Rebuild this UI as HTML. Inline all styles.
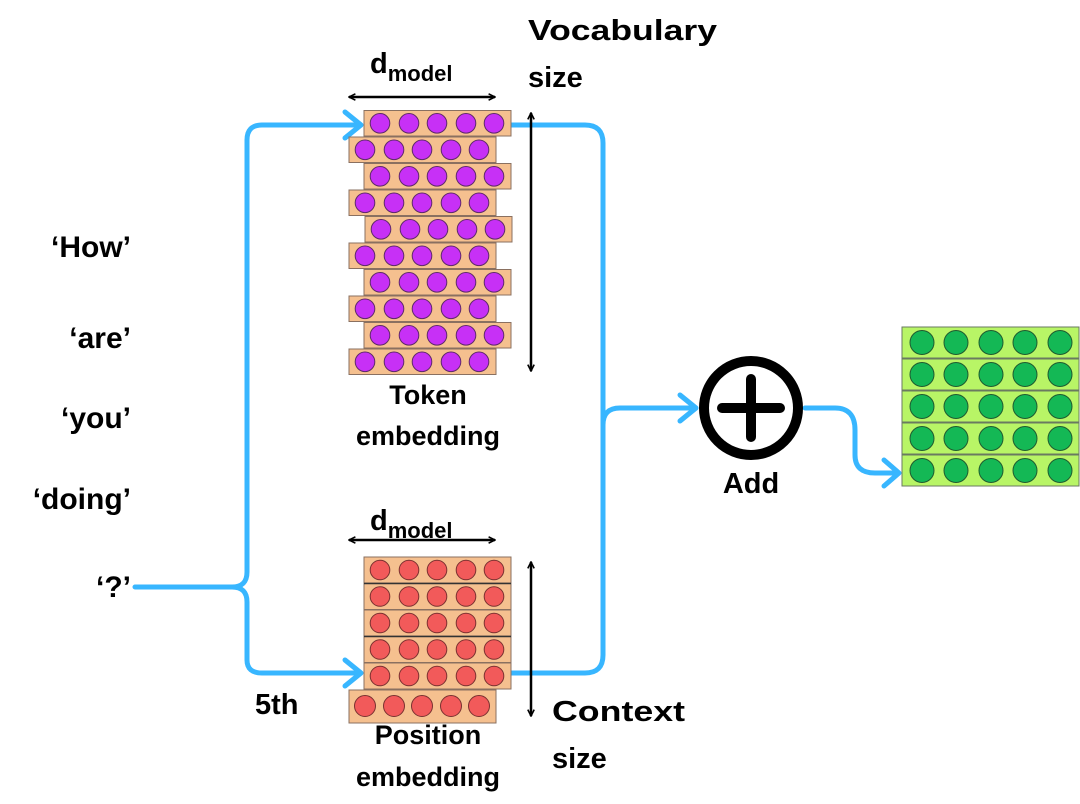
<!DOCTYPE html>
<html><head><meta charset="utf-8"><style>
html,body{margin:0;padding:0;background:#fff;}
svg{display:block;}
text{font-family:"Liberation Sans",sans-serif;font-weight:bold;fill:#000;}
</style></head><body>
<svg width="1080" height="804" viewBox="0 0 1080 804" xmlns="http://www.w3.org/2000/svg">
<defs>
<marker id="bh" viewBox="0 0 10 10" refX="9" refY="5" markerWidth="8" markerHeight="8" markerUnits="userSpaceOnUse" orient="auto-start-reverse"><path d="M1,1 L9,5 L1,9" fill="none" stroke="#000" stroke-width="2"/></marker>
</defs>
<g fill="none" stroke="#38b6ff" stroke-width="5" stroke-linecap="round" stroke-linejoin="round">
<path d="M135,587 H232 Q247,587 247,572 V140 Q247,125 262,125 H360"/>
<path d="M232,587 Q247,587 247,602 V660 Q247,673 262,673 H360"/>
<path d="M345,112 L361,125 L345,138"/>
<path d="M345,660 L361,673 L345,686"/>
<path d="M511,125 H585 Q603,125 603,143 V655 Q603,673 585,673 H511"/>
<path d="M603,425 Q603,408 620,408 H695"/>
<path d="M680,395 L696,408 L680,421"/>
<path d="M805,408 H835 Q855,408 855,430 V455 Q855,473 875,473 H898"/>
<path d="M884,460 L899,473 L884,486"/>
</g>
<g stroke="#000" stroke-width="2.5" fill="none">
<line x1="349" y1="97" x2="495" y2="97" marker-start="url(#bh)" marker-end="url(#bh)"/>
<line x1="531" y1="113" x2="531" y2="371" marker-start="url(#bh)" marker-end="url(#bh)"/>
<line x1="349" y1="540" x2="495" y2="540" marker-start="url(#bh)" marker-end="url(#bh)"/>
<line x1="531" y1="562" x2="531" y2="716" marker-start="url(#bh)" marker-end="url(#bh)"/>
</g>
<g id="tok" stroke-width="1">
<!-- token rows -->
<g fill="#f5c08f" stroke="#8a7060">
<rect x="364" y="110.5" width="147" height="25.5"/>
<rect x="349" y="137" width="147" height="25.5"/>
<rect x="364" y="163.5" width="147" height="25.5"/>
<rect x="349" y="190" width="147" height="25.5"/>
<rect x="365" y="216.5" width="147" height="25.5"/>
<rect x="349" y="243" width="147" height="25.5"/>
<rect x="364" y="269.5" width="147" height="25.5"/>
<rect x="349" y="296" width="147" height="25.5"/>
<rect x="364" y="322.5" width="147" height="25.5"/>
<rect x="349" y="349" width="147" height="25.5"/>
</g>
<g fill="#c730f6" stroke="#5e2a6a">
<g id="pr1"><circle cx="380" cy="123.3" r="9.8"/><circle cx="409" cy="123.3" r="9.8"/><circle cx="437" cy="123.3" r="9.8"/><circle cx="466" cy="123.3" r="9.8"/><circle cx="494" cy="123.3" r="9.8"/></g>
<g id="pr2"><circle cx="365" cy="149.8" r="9.8"/><circle cx="394" cy="149.8" r="9.8"/><circle cx="422" cy="149.8" r="9.8"/><circle cx="451" cy="149.8" r="9.8"/><circle cx="479" cy="149.8" r="9.8"/></g>
<use href="#pr1" y="53"/><use href="#pr2" y="53"/>
<use href="#pr1" x="1" y="106"/><use href="#pr2" y="106"/>
<use href="#pr1" y="159"/><use href="#pr2" y="159"/>
<use href="#pr1" y="212"/><use href="#pr2" y="212"/>
</g>
</g>
<g stroke-width="1">
<g fill="#f5c08f" stroke="#8a7060">
<rect x="364" y="557" width="147" height="26"/>
<rect x="364" y="583.5" width="147" height="26"/>
<rect x="364" y="610" width="147" height="26"/>
<rect x="364" y="636.5" width="147" height="26"/>
<rect x="364" y="663" width="147" height="26"/>
<rect x="349" y="690" width="147" height="33"/>
</g>
<g stroke="#333" stroke-width="1.5"><line x1="364" y1="583.5" x2="511" y2="583.5"/><line x1="364" y1="636.5" x2="511" y2="636.5"/></g>
<g fill="#f25a5a" stroke="#7a3030">
<g id="rr"><circle cx="380" cy="570" r="9.8"/><circle cx="409" cy="570" r="9.8"/><circle cx="437" cy="570" r="9.8"/><circle cx="466" cy="570" r="9.8"/><circle cx="494" cy="570" r="9.8"/></g>
<use href="#rr" y="26.5"/><use href="#rr" y="53"/><use href="#rr" y="79.5"/><use href="#rr" y="106"/>
<circle cx="365" cy="706" r="10.5"/><circle cx="394" cy="706" r="10.5"/><circle cx="422" cy="706" r="10.5"/><circle cx="451" cy="706" r="10.5"/><circle cx="479" cy="706" r="10.5"/>
</g>
</g>
<g stroke-width="1">
<g fill="#b8f566" stroke="#6a7a60">
<rect x="902" y="327" width="177" height="31"/><rect x="902" y="359" width="177" height="31"/><rect x="902" y="391" width="177" height="31"/><rect x="902" y="423" width="177" height="31"/><rect x="902" y="455" width="177" height="31"/>
</g>
<g fill="#14b855" stroke="#1f5a30">
<g id="gr"><circle cx="922" cy="342.5" r="12"/><circle cx="956" cy="342.5" r="12"/><circle cx="991" cy="342.5" r="12"/><circle cx="1025" cy="342.5" r="12"/><circle cx="1060" cy="342.5" r="12"/></g>
<use href="#gr" y="32"/><use href="#gr" y="64"/><use href="#gr" y="96"/><use href="#gr" y="128"/>
</g>
</g>
<circle cx="751" cy="408" r="47" fill="#fff" stroke="#000" stroke-width="10"/>
<g stroke="#000" stroke-width="10" stroke-linecap="round"><line x1="722" y1="408" x2="780" y2="408"/><line x1="751" y1="379" x2="751" y2="437"/></g>
<g font-size="30" text-anchor="end">
<text x="131" y="257">‘How’</text>
<text x="131" y="348">‘are’</text>
<text x="131" y="428">‘you’</text>
<text x="131" y="509">‘doing’</text>
<text x="131" y="597">‘?’</text>
</g>
<g font-size="29">
<text x="528" y="40" textLength="189" lengthAdjust="spacingAndGlyphs">Vocabulary</text>
<text x="528" y="87">size</text>
<text x="552" y="721" textLength="133" lengthAdjust="spacingAndGlyphs">Context</text>
<text x="552" y="768">size</text>
<text x="255" y="714">5th</text>
<text x="751" y="493" text-anchor="middle">Add</text>
<text x="370" y="73">d<tspan font-size="22" dy="8">model</tspan></text>
<text x="370" y="530">d<tspan font-size="22" dy="8">model</tspan></text>
</g>
<g font-size="27" text-anchor="middle">
<text x="428" y="404">Token</text>
<text x="428" y="445">embedding</text>
<text x="428" y="744">Position</text>
<text x="428" y="786">embedding</text>
</g>
</svg>
</body></html>
